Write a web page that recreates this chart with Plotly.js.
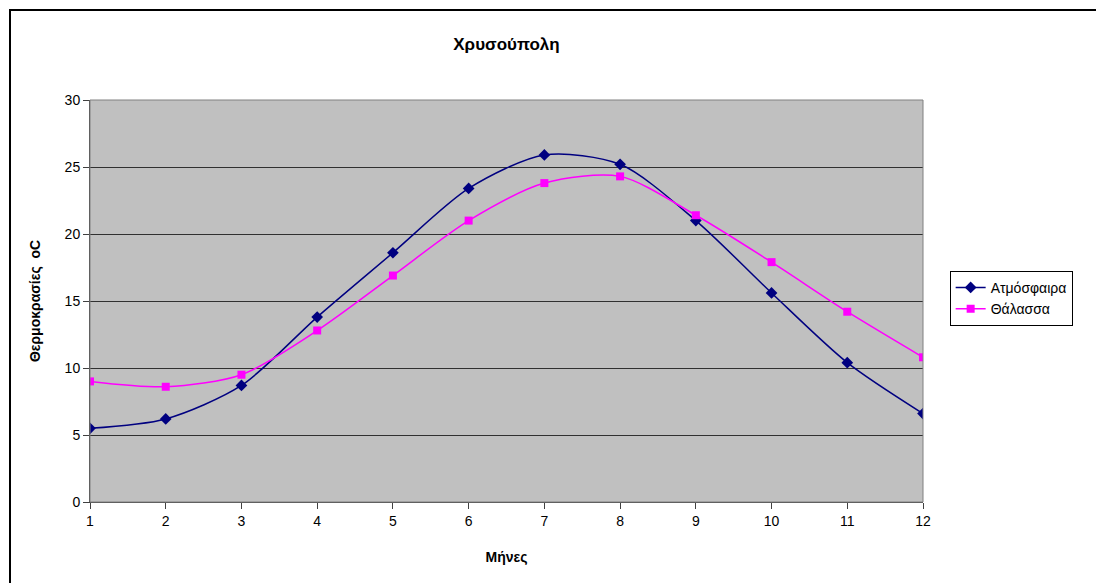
<!DOCTYPE html>
<html>
<head>
<meta charset="utf-8">
<script src="https://cdn.plot.ly/plotly-3.0.1.min.js"></script>
<style>
html,body{margin:0;padding:0;background:#fff;}
#wrap{position:relative;width:1096px;height:583px;overflow:hidden;}
#chart{position:absolute;left:0;top:0;width:1096px;height:583px;}
#frame{position:absolute;left:9px;top:9px;width:1200px;height:700px;border:2px solid #000;box-sizing:border-box;pointer-events:none;}
</style>
</head>
<body>
<div id="wrap"><div id="chart"></div><div id="frame"></div></div>
<script>
const months = [1,2,3,4,5,6,7,8,9,10,11,12];
const atmosphere = [5.5,6.2,8.7,13.8,18.6,23.4,25.9,25.2,21.0,15.6,10.4,6.6];
const sea = [9.0,8.6,9.5,12.8,16.9,21.0,23.8,24.3,21.4,17.9,14.2,10.8];
const seriesNames = ['Ατμόσφαιρα','Θάλασσα'];

const font = 'Liberation Sans, Arial, sans-serif';
const traces = [
  {x: months, y: atmosphere, name: seriesNames[0], type: 'scatter', mode: 'lines+markers',
   line: {color: '#000080', width: 1.5, shape: 'spline', smoothing: 0.8},
   marker: {symbol: 'diamond', size: 9, color: '#000080'}},
  {x: months, y: sea, name: seriesNames[1], type: 'scatter', mode: 'lines+markers',
   line: {color: '#FF00FF', width: 1.5, shape: 'spline', smoothing: 0.8},
   marker: {symbol: 'square', size: 8, color: '#FF00FF'}}
];
const layout = {
  width: 1096, height: 583,
  margin: {l: 90, r: 173, t: 100, b: 81},
  paper_bgcolor: '#ffffff', plot_bgcolor: '#C0C0C0',
  font: {family: font, size: 14, color: '#000'},
  title: {text: '<b>Χρυσούπολη</b>', x: 0.5, xref: 'paper', y: 0.925, yanchor: 'middle',
          font: {family: font, size: 17, color: '#000'}},
  xaxis: {range: [1, 12], tickmode: 'array', tickvals: months, ticktext: months.map(String),
          showgrid: false, zeroline: false, showline: true, linecolor: '#404040', linewidth: 1,
          ticks: 'outside', ticklen: 6, tickcolor: '#404040',
          tickfont: {family: font, size: 14},
          title: {text: '<b>Μήνες</b>', font: {family: font, size: 14}, standoff: 24}},
  yaxis: {range: [0, 30], dtick: 5, showgrid: true, gridcolor: '#303030', gridwidth: 1,
          zeroline: false, showline: true, linecolor: '#404040', linewidth: 1,
          ticks: 'outside', ticklen: 6, tickcolor: '#404040',
          tickfont: {family: font, size: 14},
          title: {text: '<b>Θερμοκρασίες  oC</b>', font: {family: font, size: 14}, standoff: 20}},
  shapes: [{type: 'rect', xref: 'paper', yref: 'paper', x0: 0, x1: 1, y0: 0, y1: 1,
            line: {color: '#808080', width: 1}}],
  legend: {x: 1.032, xanchor: 'left', y: 0.575, yanchor: 'top', bgcolor: '#ffffff',
           bordercolor: '#000', borderwidth: 1, font: {family: font, size: 14},
           tracegroupgap: 2, itemwidth: 30},
  showlegend: true
};
Plotly.newPlot('chart', traces, layout, {displayModeBar: false, staticPlot: true});
</script>
</body>
</html>
